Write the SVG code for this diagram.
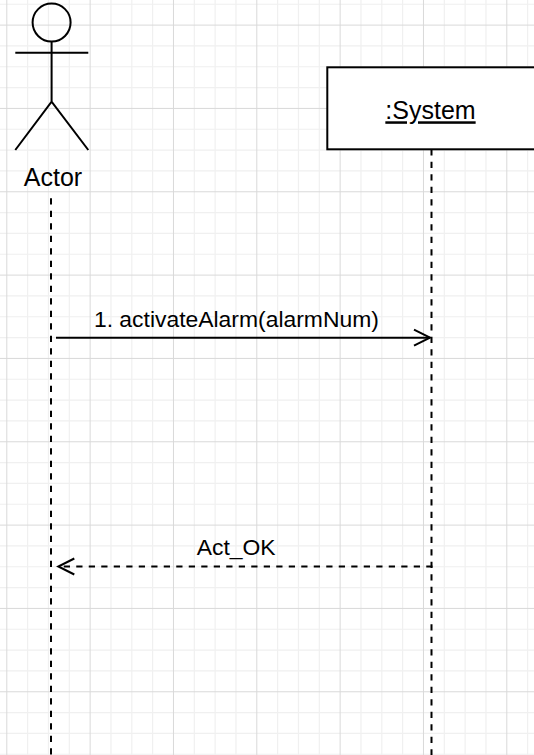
<svg xmlns="http://www.w3.org/2000/svg" width="534" height="755" viewBox="0 0 534 755">
<style>
.minor{stroke:#f0f0f0;stroke-width:1.2;fill:none}
.major{stroke:#d9d9d9;stroke-width:1;fill:none}
.ln{stroke:#000;stroke-width:2;fill:none}
.life{stroke:#000;stroke-width:2;fill:none;stroke-dasharray:6.25 6.25}
.lbl{font-family:"Liberation Sans",Arial,Helvetica,sans-serif;fill:#000;text-anchor:middle}
.v{font-size:25px}
.e{font-size:22.9px}
</style>
<defs>
<marker id="open" markerUnits="userSpaceOnUse" markerWidth="20" markerHeight="20" viewBox="-18 -10 20 20" refX="0" refY="0" orient="auto">
<path d="M-16,-8 L0,0 L-16,8" fill="none" stroke="#000" stroke-width="2" stroke-dasharray="none"/>
</marker>
</defs>
<rect width="534" height="755" fill="#fff"/>
<g id="grid">
<path class="minor" d="M27.63,0V755M48.47,0V755M69.3,0V755M110.97,0V755M131.8,0V755M152.63,0V755M194.3,0V755M215.13,0V755M235.97,0V755M277.63,0V755M298.47,0V755M319.3,0V755M360.97,0V755M381.8,0V755M402.63,0V755M444.3,0V755M465.13,0V755M485.97,0V755M527.63,0V755
M0,4.27H534M0,45.93H534M0,66.77H534M0,87.6H534M0,129.27H534M0,150.1H534M0,170.93H534M0,212.6H534M0,233.43H534M0,254.27H534M0,295.93H534M0,316.77H534M0,337.6H534M0,379.27H534M0,400.1H534M0,420.93H534M0,462.6H534M0,483.43H534M0,504.27H534M0,545.93H534M0,566.77H534M0,587.6H534M0,629.27H534M0,650.1H534M0,670.93H534M0,712.6H534M0,733.43H534M0,754.27H534"/>
<path class="major" d="M6.8,0V755M90.13,0V755M173.47,0V755M256.8,0V755M340.13,0V755M423.47,0V755M506.8,0V755
M0,25.1H534M0,108.43H534M0,191.77H534M0,275.1H534M0,358.43H534M0,441.77H534M0,525.1H534M0,608.43H534M0,691.77H534"/>
</g>
<g id="connectors">
<line id="actor-lifeline" class="life" x1="51" y1="198.3" x2="51" y2="755"/>
<line id="system-lifeline" class="life" x1="431.5" y1="149.3" x2="431.5" y2="755"/>
<g id="msg1">
<line class="ln" x1="56" y1="337.7" x2="430" y2="337.7" marker-end="url(#open)"/>
<text class="lbl e" x="236.4" y="326.6">1. activateAlarm(alarmNum)</text>
</g>
<g id="msg2">
<line class="life" x1="432.5" y1="566.5" x2="58.3" y2="566.5" marker-end="url(#open)"/>
<text class="lbl e" x="236.2" y="554.6">Act_OK</text>
</g>
</g>
<g id="actor">
<circle class="ln" cx="51.6" cy="22.6" r="19"/>
<path class="ln" d="M51.6,41.6V101.7M15.3,52.7H88.3M15.3,150L51.6,101.7L88.3,150"/>
<text class="lbl v" x="53" y="186">Actor</text>
</g>
<g id="system">
<rect class="ln" x="327.3" y="67.3" width="208.3" height="82" fill="#fff" style="fill:#fff"/>
<text class="lbl v" x="430.5" y="119.3" text-decoration="underline">:System</text>
</g>
</svg>
